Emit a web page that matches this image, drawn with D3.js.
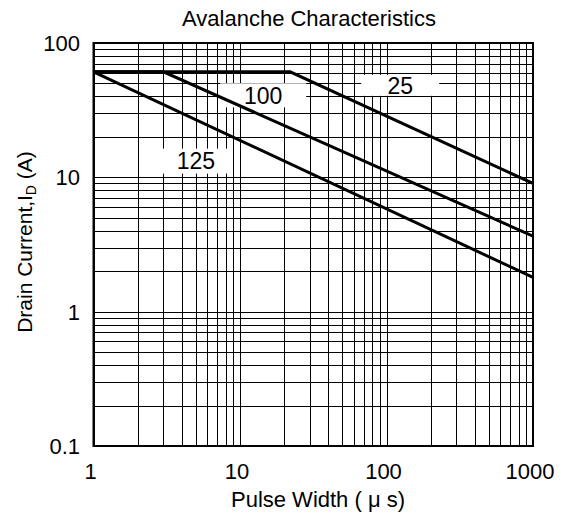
<!DOCTYPE html>
<html>
<head>
<meta charset="utf-8">
<script src="https://cdn.jsdelivr.net/npm/d3@7"></script>
<style>
  body { margin: 0; background: #fff; }
  svg { display: block; font-family: "Liberation Sans", Arial, sans-serif; }
</style>
</head>
<body>
<svg id="chart" width="563" height="522"></svg>
<script>
// curve data: pulse width (us) vs drain current (A)
var temps = ["25", "100", "125"];
var curve25 = [[1, 61], [22, 61], [1000, 9.0]];
var curve100 = [[1, 61], [3, 61], [1000, 3.65]];
var curve125 = [[1, 61], [1000, 1.8]];
var curves = [curve25, curve100, curve125];
// where the temperature labels sit (data units)
var labelAt = [[124, 48.4], [14.4, 40.8], [5.0, 13.2]];

var xTicks = [1, 10, 100, 1000];
var yTicks = [0.1, 1, 10, 100];
var yTickLabels = ["0.1", "1", "10", "100"];

var svg = d3.select("#chart");
var margin = {left: 93.5, right: 30, top: 43, bottom: 76};
var W = 563, H = 522;

var x = d3.scaleLog().domain([1, 1000]).range([margin.left, W - margin.right]);
var y = d3.scaleLog().domain([0.1, 100]).range([H - margin.bottom, margin.top]);

// minor + major grid
var xGrid = [], yGrid = [];
for (var d = 1; d < 1000; d *= 10)
    for (var k = 1; k < 10; k++) xGrid.push(d * k);
for (var d = 0.1; d < 99; d *= 10)
    for (var k = 1; k < 10; k++) yGrid.push(d * k);

var grid = svg.append("g").attr("class", "grid");
grid.selectAll(".vx").data(xGrid).enter().append("line")
    .attr("x1", function(d) { return Math.round(x(d)) + 0.5; })
    .attr("x2", function(d) { return Math.round(x(d)) + 0.5; })
    .attr("y1", y(100)).attr("y2", y(0.1))
    .style("stroke", "#000").style("stroke-width", 1);
grid.selectAll(".hy").data(yGrid).enter().append("line")
    .attr("y1", function(d) { return Math.round(y(d)) + 0.5; })
    .attr("y2", function(d) { return Math.round(y(d)) + 0.5; })
    .attr("x1", x(1)).attr("x2", x(1000))
    .style("stroke", "#000").style("stroke-width", 1);

// white boxes behind the temperature labels
var boxSize = [[78, 21], [86, 24], [70, 25]];
svg.selectAll(".lblbox").data(labelAt).enter().append("rect")
    .attr("x", function(d, i) { return x(d[0]) - boxSize[i][0] / 2; })
    .attr("y", function(d, i) { return y(d[1]) - boxSize[i][1] / 2; })
    .attr("width", function(d, i) { return boxSize[i][0]; })
    .attr("height", function(d, i) { return boxSize[i][1]; })
    .style("fill", "#fff");

// plot frame
svg.append("rect")
    .attr("x", x(1)).attr("y", y(100))
    .attr("width", x(1000) - x(1)).attr("height", y(0.1) - y(100))
    .style("fill", "none").style("stroke", "#000").style("stroke-width", 2);

var line = d3.line()
    .x(function(d) { return x(d[0]); })
    .y(function(d) { return y(d[1]); });

svg.selectAll(".curve").data(curves).enter().append("path")
    .attr("d", line)
    .style("fill", "none").style("stroke", "#000").style("stroke-width", 3);

svg.selectAll(".lbl").data(labelAt).enter().append("text")
    .attr("x", function(d) { return x(d[0]); })
    .attr("y", function(d) { return y(d[1]); })
    .attr("dy", "0.36em")
    .style("text-anchor", "middle")
    .style("font-size", "23px")
    .text(function(d, i) { return temps[i]; });

// tick labels
svg.selectAll(".xt").data(xTicks).enter().append("text")
    .attr("x", function(d) { return x(d) - 3; })
    .attr("y", 479)
    .style("text-anchor", "middle")
    .style("font-size", "22px")
    .text(function(d) { return d; });

svg.selectAll(".yt").data(yTicks).enter().append("text")
    .attr("x", 80)
    .attr("y", function(d) { return y(d); })
    .attr("dy", "0.36em")
    .style("text-anchor", "end")
    .style("font-size", "22px")
    .text(function(d, i) { return yTickLabels[i]; });

// titles
svg.append("text")
    .attr("x", 309).attr("y", 26)
    .style("text-anchor", "middle")
    .style("font-size", "22px")
    .text("Avalanche Characteristics");

svg.append("text")
    .attr("x", 318).attr("y", 507)
    .style("text-anchor", "middle")
    .style("font-size", "22px")
    .text("Pulse Width ( \u03bc s)");

var yl = svg.append("text")
    .attr("transform", "translate(32,242) rotate(-90)")
    .style("text-anchor", "middle")
    .style("font-size", "21px");
yl.append("tspan").text("Drain Current,I");
yl.append("tspan").attr("dy", 4).style("font-size", "14px").text("D");
yl.append("tspan").attr("dy", -4).text(" (A)");
</script>
</body>
</html>
